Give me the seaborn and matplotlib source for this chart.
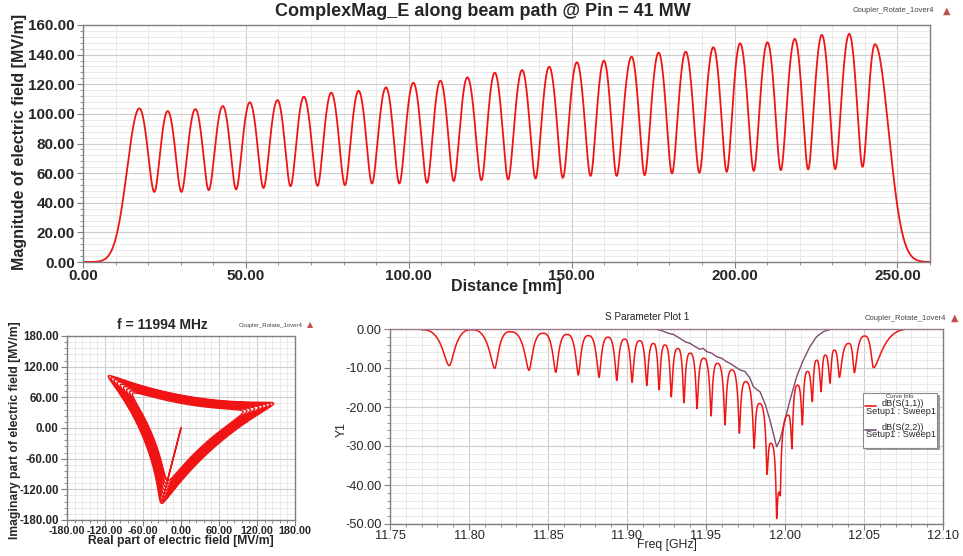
import numpy as np
import pandas as pd
import seaborn as sns
import matplotlib.pyplot as plt
from matplotlib.ticker import MultipleLocator
from matplotlib.lines import Line2D
from matplotlib.patches import Rectangle

sns.set_theme(style="white")
plt.rcParams['font.family'] = ['Liberation Sans', 'DejaVu Sans']

# ---------------- field along the beam path (28 cells) ----------------
peak_pos = [17.3, 26.0, 34.5, 42.9, 51.2, 59.7, 67.8, 76.2, 84.6, 93.0, 101.4, 109.7,
            118.0, 126.4, 134.8, 143.1, 151.6, 159.9, 168.4, 176.7, 185.0, 193.5,
            201.7, 210.1, 218.5, 226.8, 235.2, 243.1]
peak_val = [103.7, 101.9, 103.2, 105.3, 107.8, 109.3, 111.6, 114.3, 115.6, 117.9, 121.0,
            122.4, 124.7, 127.8, 129.6, 131.8, 134.8, 135.9, 138.6, 141.3, 142.0, 145.0,
            147.6, 148.3, 150.6, 153.3, 154.0, 147.0]
trough_pos = [21.9, 30.2, 38.6, 47.0, 55.4, 63.7, 72.0, 80.4, 88.7, 97.1, 105.6, 113.8,
              122.3, 130.5, 138.9, 147.3, 155.8, 163.8, 172.4, 180.8, 189.2, 197.6,
              205.9, 214.2, 222.6, 230.9, 239.3]
trough_val = [47.3, 47.3, 48.5, 49.0, 50.0, 51.2, 51.4, 51.9, 53.0, 53.0, 53.4, 54.6,
              55.2, 55.7, 56.4, 56.8, 58.1, 58.1, 58.6, 59.8, 60.2, 60.9, 61.5, 62.0,
              62.5, 62.7, 64.2]
rise_width = 5.3      # mm, input taper of the field
fall_width = 5.9      # mm, output taper of the field
first_peak_angle = 258.3   # deg, phase of the field in the first cell

# ---------------- S-parameters ----------------
s11_freq = [11.7700, 11.7875, 11.8017, 11.8163, 11.8260, 11.8380, 11.8470, 11.8549,
            11.8620, 11.8692, 11.8755, 11.8823, 11.8880, 11.8935, 11.8985, 11.9032,
            11.9080, 11.9125, 11.9167, 11.9203, 11.9240, 11.9280, 11.9322, 11.9360,
            11.9400, 11.9443, 11.9485, 11.9532, 11.9572, 11.9620, 11.9663, 11.9711,
            11.9750, 11.9804, 11.9838, 11.9886, 11.9910, 11.9947, 11.9963, 11.9970,
            12.0021, 12.0044, 12.0080, 12.0110, 12.0143, 12.0173, 12.0200, 12.0228,
            12.0255, 12.0285, 12.0312, 12.0344, 12.0405, 12.0439, 12.0505, 12.0559,
            12.0800]
s11_db = [-0.2, -9.4, -0.2, -10.1, -0.7, -10.6, -1.1, -11.1,
          -1.4, -11.8, -1.7, -12.4, -2.1, -13.2, -2.6, -13.7,
          -3.0, -14.5, -3.7, -15.6, -4.1, -17.4, -5.0, -18.9,
          -6.2, -20.4, -7.5, -22.3, -8.8, -24.6, -10.5, -26.7,
          -13.5, -30.6, -19.1, -37.3, -29.3, -48.6, -41.8, -42.8,
          -22.1, -30.7, -14.4, -24.6, -10.9, -18.6, -8.0, -16.1,
          -6.7, -13.9, -5.4, -12.4, -3.7, -11.2, -1.8, -9.9,
          0.0]

s22_freq = [11.7500, 11.9082, 11.9166, 11.9209, 11.9262, 11.9293, 11.9335, 11.9367,
            11.9399, 11.9430, 11.9462, 11.9483, 11.9504, 11.9536, 11.9567, 11.9599,
            11.9631, 11.9652, 11.9684, 11.9715, 11.9747, 11.9778, 11.9800, 11.9821,
            11.9842, 11.9873, 11.9905, 11.9926, 11.9947, 11.9968, 11.9989, 12.0010,
            12.0032, 12.0074, 12.0116, 12.0158, 12.0200, 12.0243, 12.0285, 12.0348,
            12.1000]
s22_db = [0.0, 0.0, 0.0, -0.26, -1.1, -1.37, -2.4, -3.25,
          -3.68, -4.5, -5.2, -4.96, -5.8, -6.2, -7.1, -7.5,
          -8.4, -8.8, -9.66, -10.5, -10.9, -12.6, -14.8, -15.5,
          -16.1, -19.1, -23.4, -26.8, -30.2, -28.5, -25.1, -21.7,
          -18.2, -12.2, -7.95, -4.5, -1.97, -0.68, -0.09, 0.0,
          0.0]

RED = '#f01414'
PURPLE = '#7d4b6e'
SPINE = '#7f7f7f'


def cell_profile(x, ext_x, ext_v, sharpness=1.0):
    """Cell phase and the two space-harmonic amplitudes between alternating
    maxima and minima (list starts and ends with a maximum).  A sharpness
    above 1 keeps the phase near the maxima longer, narrowing the minima."""
    ext_x = np.asarray(ext_x, float)
    ext_v = np.asarray(ext_v, float)
    seg = np.clip(np.searchsorted(ext_x, x, side='right') - 1, 0, len(ext_x) - 2)
    frac = np.clip((x - ext_x[seg]) / (ext_x[seg + 1] - ext_x[seg]), 0, 1)
    going_down = seg % 2 == 0
    g = np.where(going_down, frac ** sharpness, 1 - (1 - frac) ** sharpness)
    c = 0.5 * (seg + g)
    left, right = ext_v[seg], ext_v[seg + 1]
    hi = np.where(going_down, left, right)
    lo = np.where(going_down, right, left)
    return c, (hi + lo) / 2, (hi - lo) / 2


# complex field along z: forward harmonic plus the n = -1 space harmonic
ext_z = np.empty(len(peak_pos) + len(trough_pos))
ext_z[0::2], ext_z[1::2] = peak_pos, trough_pos
ext_e = np.empty_like(ext_z)
ext_e[0::2], ext_e[1::2] = peak_val, trough_val

z = np.linspace(0, 260, 6001)
psi0 = np.deg2rad(first_peak_angle)
c, a, b = cell_profile(z, ext_z, ext_e)
E = np.exp(1j * psi0) * (a * np.exp(-2j * np.pi * c / 3) + b * np.exp(4j * np.pi * c / 3))
before = z < peak_pos[0]
after = z > peak_pos[-1]
E[before] = peak_val[0] * np.exp(-((z[before] - peak_pos[0]) / rise_width) ** 2) * np.exp(1j * psi0)
last_phase = psi0 - 2 * np.pi * (len(peak_pos) - 1) / 3
E[after] = peak_val[-1] * np.exp(-((z[after] - peak_pos[-1]) / fall_width) ** 2) * np.exp(1j * last_phase)

field = pd.DataFrame({'Distance': z, 'Mag': np.abs(E), 'Re': E.real, 'Im': E.imag})

# S11 from its resonance minima and maxima (linear magnitude between them)
f11 = np.linspace(s11_freq[0], s11_freq[-1], 8001)
c11, a11, b11 = cell_profile(f11, s11_freq, 10 ** (np.array(s11_db) / 20), sharpness=1.35)
mag11 = np.sqrt(a11 ** 2 + b11 ** 2 + 2 * a11 * b11 * np.cos(2 * np.pi * c11))
s11 = pd.DataFrame({'Freq': f11, 'dB': 20 * np.log10(mag11)})
s22 = pd.DataFrame({'Freq': s22_freq, 'dB': s22_db})

# ---------------- figure ----------------
W, H = 963, 556
fig = plt.figure(figsize=(W / 100, H / 100), dpi=100)


def fx(px):
    return px / W


def fy(py):
    return 1 - py / H


def axes_px(left, top, right, bottom):
    return fig.add_axes([fx(left), fy(bottom), (right - left) / W, (bottom - top) / H])


def style_axes(ax, xmin, ymin, xpad=2):
    ax.xaxis.set_minor_locator(MultipleLocator(xmin))
    ax.yaxis.set_minor_locator(MultipleLocator(ymin))
    ax.grid(which='major', color='#cdcdcd', lw=0.8)
    ax.grid(which='minor', color='#e6e6e6', lw=0.6)
    ax.set_axisbelow(True)
    for s in ax.spines.values():
        s.set_color(SPINE)
        s.set_linewidth(1.0)
    ax.tick_params(which='major', direction='out', length=4, width=0.8, color=SPINE,
                   left=True, bottom=True, pad=2)
    ax.tick_params(axis='x', which='major', pad=xpad)
    ax.tick_params(which='minor', direction='out', length=2.5, width=0.6, color=SPINE,
                   left=True, bottom=True)
    ax.set_xlabel('')
    ax.set_ylabel('')


def source_tag(px, py, size, tri_px):
    fig.text(fx(px), fy(py), 'Coupler_Rotate_1over4', fontsize=size, color='#444444',
             ha='left', va='center')
    fig.text(fx(tri_px), fy(py), '\u25b2', fontsize=size + 1.5, color='#c0504d',
             ha='center', va='center', family=['DejaVu Sans'])


# --- top: field magnitude along the beam path
ax1 = axes_px(83, 25, 930, 262)
sns.lineplot(data=field, x='Distance', y='Mag', color=RED, lw=1.3, ax=ax1)
ax1.set_xlim(0, 260)
ax1.set_ylim(0, 160)
xt = np.arange(0, 251, 50)
yt = np.arange(0, 161, 20)
ax1.set_xticks(xt)
ax1.set_xticklabels([f'{v:.2f}' for v in xt], fontsize=11, fontweight='bold')
ax1.set_yticks(yt)
ax1.set_yticklabels([f'{v:.2f}' for v in yt], fontsize=11, fontweight='bold')
style_axes(ax1, 10, 4, xpad=1)
fig.text(fx(483), fy(11), 'ComplexMag_E along beam path @ Pin = 41 MW', fontsize=13,
         fontweight='bold', ha='center', va='center')
fig.text(fx(506), fy(286), 'Distance [mm]', fontsize=11.5, fontweight='bold',
         ha='center', va='center')
fig.text(fx(20), fy(142), 'Magnitude of electric field [MV/m]', fontsize=11.5,
         fontweight='bold', rotation=90, ha='center', va='center')
source_tag(853, 11, 5.5, 947)

# --- bottom left: complex field trajectory
ax2 = axes_px(67, 336, 295, 520)
sns.lineplot(data=field, x='Re', y='Im', sort=False, estimator=None, color=RED,
             lw=1.1, ax=ax2)
ax2.set_xlim(-180, 180)
ax2.set_ylim(-180, 180)
pt = np.arange(-180, 181, 60)
ax2.set_xticks(pt)
ax2.set_xticklabels([f'{v:.2f}' for v in pt], fontsize=7.8, fontweight='bold')
ax2.set_yticks(pt)
ax2.set_yticklabels([f'{v:.2f}' for v in pt], fontsize=8.3, fontweight='bold')
style_axes(ax2, 12, 12, xpad=0.5)
fig.text(fx(162), fy(325), 'f = 11994 MHz', fontsize=10, fontweight='bold',
         ha='center', va='center')
fig.text(fx(181), fy(541), 'Real part of electric field [MV/m]', fontsize=8.7,
         fontweight='bold', ha='center', va='center')
fig.text(fx(15), fy(430), 'Imaginary part of electric field [MV/m]', fontsize=8.7,
         fontweight='bold', rotation=90, ha='center', va='center')
source_tag(239, 325, 4.3, 310)

# --- bottom right: S-parameters
ax3 = axes_px(390, 329, 943, 524)
sns.lineplot(data=s22, x='Freq', y='dB', color=PURPLE, lw=1.0, ax=ax3)
sns.lineplot(data=s11, x='Freq', y='dB', color=RED, lw=1.1, ax=ax3)
ax3.set_xlim(11.75, 12.10)
ax3.set_ylim(-50, 0)
ft = np.round(np.arange(11.75, 12.101, 0.05), 2)
ax3.set_xticks(ft)
ax3.set_xticklabels([f'{v:.2f}' for v in ft], fontsize=9.2)
dt = np.arange(-50, 1, 10)
ax3.set_yticks(dt)
ax3.set_yticklabels([f'{v:.2f}' for v in dt], fontsize=9.2)
style_axes(ax3, 0.01, 2, xpad=0.5)
ax3.spines['top'].set_color('#9a7890')
fig.text(fx(647), fy(317), 'S Parameter Plot 1', fontsize=7.2, ha='center', va='center')
fig.text(fx(667), fy(545), 'Freq [GHz]', fontsize=8.8, ha='center', va='center')
fig.text(fx(342), fy(430), 'Y1', fontsize=8.8, rotation=90, ha='center', va='center')
source_tag(865, 318, 5.5, 955)

# curve info box
fig.add_artist(Rectangle((fx(866), fy(450)), (937 - 863) / W, (448 - 393) / H,
                         transform=fig.transFigure, facecolor='#9a9a9a', edgecolor='none',
                         zorder=5))
fig.add_artist(Rectangle((fx(863), fy(448)), (937 - 863) / W, (448 - 393) / H,
                         transform=fig.transFigure, facecolor='white', edgecolor='#8c8c8c',
                         lw=0.8, zorder=6))
fig.text(fx(900), fy(396.5), 'Curve Info', fontsize=4.3, ha='center', va='center',
         color='#333333', zorder=7)
for y_line, y_name, y_setup, name, col in [(406, 404, 412, 'dB(S(1,1))', RED),
                                            (430, 427, 434.5, 'dB(S(2,2))', PURPLE)]:
    fig.add_artist(Line2D([fx(865), fx(876)], [fy(y_line), fy(y_line)],
                          transform=fig.transFigure, color=col, lw=1.2, zorder=7))
    fig.text(fx(882), fy(y_name), name, fontsize=6.6, ha='left', va='center', zorder=7)
    fig.text(fx(866), fy(y_setup), 'Setup1 : Sweep1', fontsize=6.6, ha='left',
             va='center', zorder=7)

fig.savefig('out.png', dpi=100)
